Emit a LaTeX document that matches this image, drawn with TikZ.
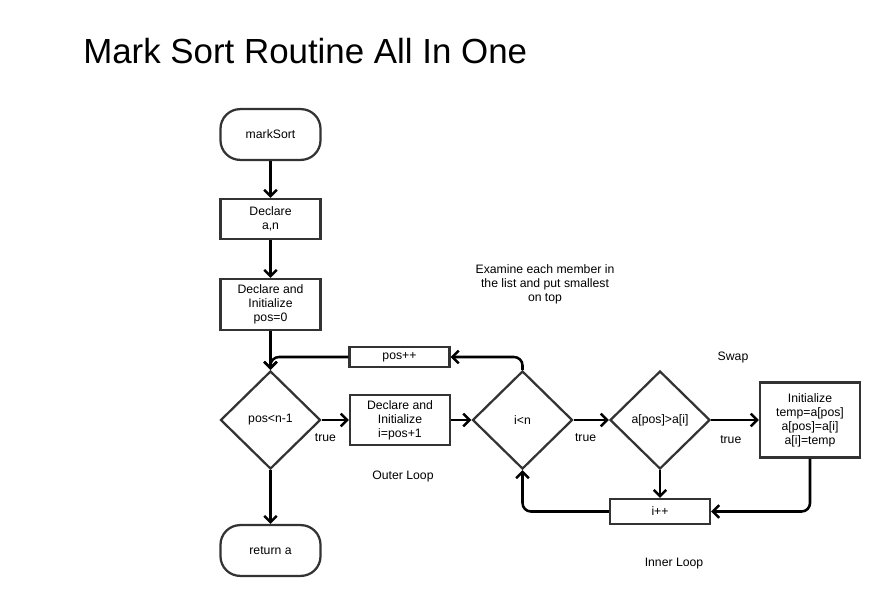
\documentclass[tikz,border=0pt]{standalone}
\usepackage{fontspec}
\setmainfont{Liberation Sans}
\usepackage{tikz}
\usetikzlibrary{arrows.meta, shapes.geometric, positioning, calc}

\begin{document}
\begin{tikzpicture}[x=0.025cm, y=-0.025cm, >={Straight Barb[length=4.5pt, width=9pt]},
    txt/.style={font=\fontsize{8.7}{10}\selectfont, align=center, inner sep=0pt},
    block/.style={txt, rectangle, draw=black!80, line width=1.6pt, minimum width=2.5cm},
    term/.style={block, rounded corners=14pt, minimum height=1.27cm},
    test/.style={txt, diamond, draw=black!80, line width=1.6pt, minimum width=2.5cm, minimum height=2.45cm},
    flow/.style={->, line width=1.8pt, black}]
    %\draw[step=50, gray, very thin] (0, 0) grid (880, 595);
    \useasboundingbox (0, 0) rectangle (880, 595);

    \node[anchor=base west, inner sep=0pt, font=\fontsize{24.8}{28}\selectfont] (title) at (83, 63) {Mark Sort Routine All In One};

    \node[term] (start) at (270.5, 134.5) {markSort};
    \node[block, minimum height=1cm] (decl) at (270.5, 219) {Declare\\a,n};
    \node[block, minimum height=1.27cm] (initpos) at (270.5, 304.5) {Declare and\\Initialize\\pos=0};
    \node[test] (outer) at (270.5, 420) {pos<n-1};
    \node[term] (stop) at (270.5, 550.5) {return a};

    \node[block, minimum height=0.5cm] (incpos) at (399.5, 357) {pos++};
    \node[block, minimum height=1.25cm] (initi) at (400, 420) {Declare and\\Initialize\\i=pos+1};
    \node[test] (inner) at (522.5, 420) {i<n};
    \node[test] (compare) at (660, 420) {a[pos]>a[i]};
    \node[block, minimum height=1.87cm] (swap) at (810, 420) {Initialize\\temp=a[pos]\\a[pos]=a[i]\\a[i]=temp};
    \node[block, minimum height=0.62cm] (inci) at (660, 511.5) {i++};

    \node[txt] (note) at (545, 284) {Examine each member in\\the list and put smallest\\on top};
    \node[txt] (outerlbl) at (403, 476) {Outer Loop};
    \node[txt] (swaplbl) at (733, 357) {Swap};
    \node[txt] (innerlbl) at (674, 564) {Inner Loop};

    \draw[flow] (start.south) -- (decl.north);
    \draw[flow] (decl.south) -- (initpos.north);
    \draw[flow] (initpos.south) -- (outer.north);
    \draw[flow] (outer.south) -- (stop.north);

    \draw[flow] (outer.east) -- node[txt, below, yshift=-9pt, xshift=-7pt] (true1) {true} (initi.west);
    \draw[flow] (initi.east) -- (inner.west);
    \draw[flow] (inner.east) -- node[txt, below, yshift=-9pt, xshift=-4pt] (true2) {true} (compare.west);
    \draw[flow] (compare.east) -- node[txt, below, yshift=-10pt, xshift=-3pt] (true3) {true} (swap.west);
    \draw[flow] (compare.south) -- (inci.north);

    \draw[flow, rounded corners=6pt] (inner.north) |- (incpos.east);
    \draw[flow, rounded corners=6pt] (incpos.west) -| (outer.north);
    \draw[flow, rounded corners=6pt] (swap.south) |- (inci.east);
    \draw[flow, rounded corners=6pt] (inci.west) -| (inner.south);

  \end{tikzpicture}
\end{document}
